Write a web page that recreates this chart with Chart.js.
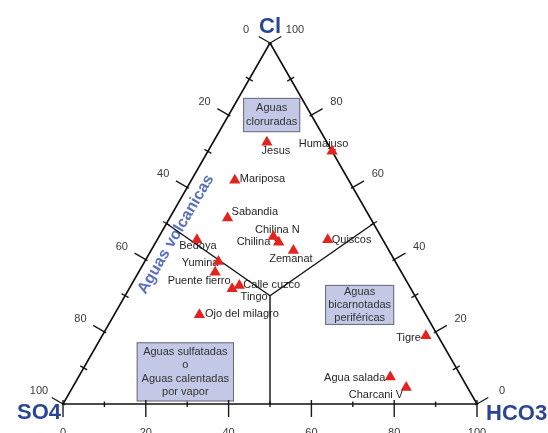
<!DOCTYPE html>
<html><head><meta charset="utf-8">
<script src="https://cdn.jsdelivr.net/npm/chart.js@4"></script>
<style>html,body{margin:0;padding:0;background:#fff}canvas{display:block}</style>
</head><body>
<canvas id="c" width="548" height="433"></canvas>
<script>
// ---- data (ternary percentages) ----
const sampleNames = ['Jesus','Humajuso','Mariposa','Sabandia','Chilina N','Chilina S','Zemanat','Quiscos','Bedoya','Yumina','Puente fierro','Calle cuzco','Tingo','Ojo del milagro','Tigre','Agua salada','Charcani V'];
const clValues   = [72.5, 70, 62, 51.5, 46.4, 44.8, 42.5, 45.5, 45.5, 39.5, 36.5, 32.8, 31.9, 24.7, 18.9, 7.5, 4.6];
const so4Values  = [14.5, 0, 27.5, 34.5, 26, 25.5, 23.1, 13.3, 44.9, 42.7, 45, 41, 43.2, 54.7, 2.9, 17.2, 14.8];
const hco3Values = [13, 30, 10.5, 14, 27.6, 29.7, 34.4, 41.2, 9.6, 17.8, 18.5, 26.2, 24.9, 20.6, 78.2, 75.3, 80.6];

const tickValues = [0,10,20,30,40,50,60,70,80,90,100];
const tickLabelValues = [0,20,40,60,80,100];

// field boundaries (Cl, HCO3 pairs)
const boundaryLeftCl = [50, 30],  boundaryLeftHco3 = [0, 35];
const boundaryRightCl = [50, 30], boundaryRightHco3 = [50, 35];
const boundaryBottomCl = [30, 0], boundaryBottomHco3 = [35, 50];

const fieldTexts = [['Aguas','cloruradas'], ['Aguas sulfatadas','o','Aguas calentadas','por vapor'], ['Aguas','bicarnotadas','periféricas']];
const axisTitles = ['Cl','SO4','HCO3'];
const zoneTitle = 'Aguas volcanicas';

// ---- layout / style config ----
const fieldBoxes = [ // x1,x2,y1,y2 in scale units
  [43.5, 57.3, 84.8, 75.3],
  [17.8, 41.3, 17.1, 0.7],
  [63.3, 80.0, 33.0, 21.9]
];
const labelPlacement = {
 'Jesus':['center',9,9], 'Humajuso':['left',-33.3,-7.7], 'Mariposa':['left',5,-1],
 'Sabandia':['left',4,-6], 'Chilina N':['center',4,-7], 'Chilina S':['right',2,0],
 'Zemanat':['center',-2.5,8.5], 'Quiscos':['left',4,0.5], 'Bedoya':['center',1,6],
 'Yumina':['right',0,1.5], 'Puente fierro':['center',-16,9], 'Calle cuzco':['left',4,-1],
 'Tingo':['center',22,8], 'Ojo del milagro':['left',5.5,-1], 'Tigre':['right',-5,2],
 'Agua salada':['right',-5,1.5], 'Charcani V':['right',-3,7.5]
};

const tern = (cl, hco3) => ({x: hco3 + cl/2, y: cl});
const samplePoints = sampleNames.map((n,i)=>tern(clValues[i], hco3Values[i]));
const outline = [tern(100,0), tern(0,0), tern(0,100), tern(100,0)];
const seg = (cls, hs) => cls.map((c,i)=>tern(c, hs[i]));

const ternPlugin = {
  id:'tern',
  beforeDatasetsDraw(chart){
    const {ctx, scales:{x, y}} = chart;
    const P = (cl,hco3)=>[x.getPixelForValue(hco3+cl/2), y.getPixelForValue(cl)];
    const line=(a,b,c2,d)=>{ctx.beginPath();ctx.moveTo(a,b);ctx.lineTo(c2,d);ctx.stroke();};
    ctx.save();
    // boxes
    fieldBoxes.forEach((b,i)=>{
      const x1=x.getPixelForValue(b[0]), x2=x.getPixelForValue(b[1]);
      const y1=y.getPixelForValue(b[2]), y2=y.getPixelForValue(b[3]);
      ctx.fillStyle='#c3c8e6'; ctx.fillRect(x1,y1,x2-x1,y2-y1);
      ctx.strokeStyle='#6a6a78'; ctx.lineWidth=1; ctx.strokeRect(x1+0.5,y1+0.5,x2-x1-1,y2-y1-1);
      const lines=fieldTexts[i]; const lh=13.3;
      ctx.fillStyle='#333'; ctx.font='11px Arial, "Liberation Sans"'; ctx.textAlign='center'; ctx.textBaseline='middle';
      const cy=(y1+y2)/2, cx=(x1+x2)/2;
      lines.forEach((t,k)=>ctx.fillText(t, cx, cy + (k-(lines.length-1)/2)*lh));
    });
    // ticks
    ctx.strokeStyle='#1a1a1a'; ctx.lineWidth=1.4;
    const c=0.866, s=0.5;
    tickValues.forEach(v=>{
      const major = v%20===0;
      const out = major?13:4, inn = major?2:4;
      let [px,py]=P(100-v,0);
      line(px-c*out, py-s*out, px+c*inn, py+s*inn);
      [px,py]=P(v,100-v);
      line(px+c*out, py-s*out, px-c*inn, py+s*inn);
      [px,py]=P(0,v);
      const bo = major?13:3, bi = major?4:2.5;
      line(px, py+bo, px, py-bi);
    });
    // tick labels
    ctx.fillStyle='#3a3a3a'; ctx.font='11px Arial, "Liberation Sans"'; ctx.textAlign='center'; ctx.textBaseline='middle';
    tickLabelValues.forEach(v=>{
      let [px,py]=P(100-v,0); ctx.fillText(String(v), px-24, py-13);
      [px,py]=P(v,100-v); ctx.fillText(String(v), px+25, py-13);
      [px,py]=P(0,v); ctx.textBaseline='top'; ctx.fillText(String(v), px, py+23); ctx.textBaseline='middle';
    });
    // axis titles
    ctx.fillStyle='#2b4596'; ctx.font='bold 22px Arial, "Liberation Sans"'; ctx.textBaseline='alphabetic';
    let [ax,ay]=P(100,0); ctx.textAlign='center'; ctx.fillText(axisTitles[0], ax, ay-10.5);
    [ax,ay]=P(0,0); ctx.textAlign='right'; ctx.fillText(axisTitles[1], ax-2, ay+15);
    [ax,ay]=P(0,100); ctx.textAlign='left'; ctx.fillText(axisTitles[2], ax+9, ay+16);
    // zone title
    const zx = x.getPixelForValue(27.3), zy = y.getPixelForValue(47.0);
    ctx.save(); ctx.translate(zx, zy); ctx.rotate(-59.6*Math.PI/180);
    ctx.fillStyle='#5b70bf'; ctx.font='bold 16px Arial, "Liberation Sans"'; ctx.textAlign='center'; ctx.textBaseline='middle';
    ctx.fillText(zoneTitle, 0, 0); ctx.restore();
    // sample labels
    ctx.fillStyle='#262626'; ctx.font='11px Arial, "Liberation Sans"'; ctx.textBaseline='middle';
    sampleNames.forEach((n,i)=>{
      const [px,py]=P(clValues[i], hco3Values[i]);
      const pl=labelPlacement[n]; ctx.textAlign=pl[0];
      ctx.fillText(n, px+pl[1], py+pl[2]);
    });
    ctx.restore();
  }
};

new Chart(document.getElementById('c'), {
  type:'scatter',
  data:{datasets:[
    {label:'samples', data:samplePoints, pointStyle:'triangle', pointRadius:6.5, pointHoverRadius:6.5,
     backgroundColor:'#e4231f', borderColor:'#e4231f', borderWidth:0, order:0, clip:false},
    {label:'outline', data:outline, showLine:true, borderColor:'#111', borderWidth:1.6, pointRadius:0, order:2, clip:false},
    {label:'b1', data:seg(boundaryLeftCl,boundaryLeftHco3), showLine:true, borderColor:'#111', borderWidth:1.4, pointRadius:0, order:2, clip:false},
    {label:'b2', data:seg(boundaryRightCl,boundaryRightHco3), showLine:true, borderColor:'#111', borderWidth:1.4, pointRadius:0, order:2, clip:false},
    {label:'b3', data:seg(boundaryBottomCl,boundaryBottomHco3), showLine:true, borderColor:'#111', borderWidth:1.4, pointRadius:0, order:2, clip:false}
  ]},
  options:{
    responsive:false, animation:false, devicePixelRatio:1,
    layout:{padding:{left:63, right:71, top:43, bottom:29}},
    scales:{x:{type:'linear',min:0,max:100,display:false}, y:{type:'linear',min:0,max:100,display:false}},
    plugins:{legend:{display:false}, tooltip:{enabled:false}},
    events:[]
  },
  plugins:[ternPlugin]
});
</script>
</body></html>
